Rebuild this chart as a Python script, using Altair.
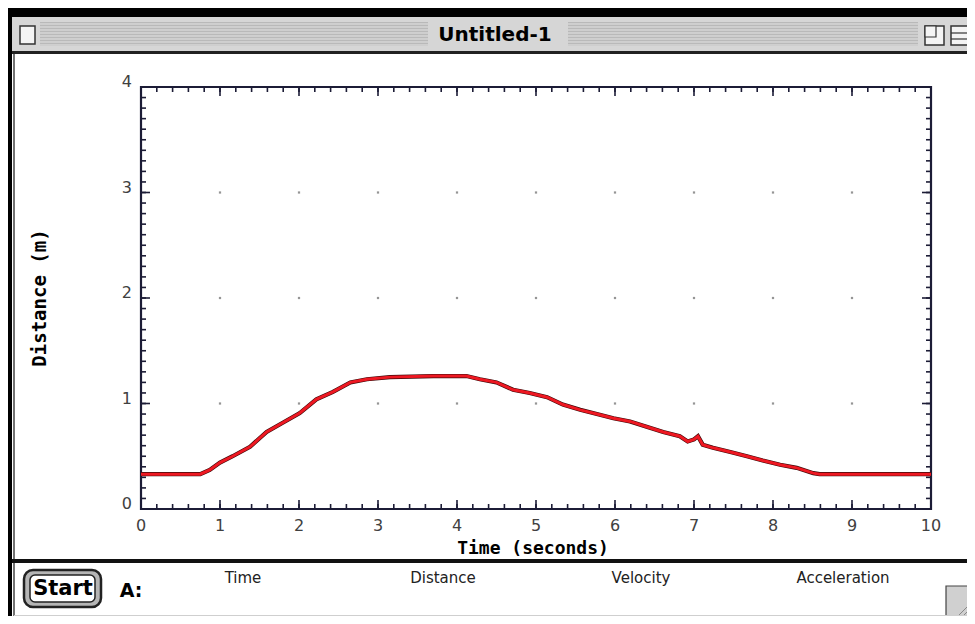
import altair as alt
import pandas as pd

# ---- data ----
time_s = [0.0, 0.40, 0.75, 0.87, 1.00, 1.16, 1.38, 1.59, 1.80, 2.01, 2.22, 2.43, 2.65,
          2.86, 3.15, 3.70, 4.12, 4.29, 4.50, 4.71, 4.92, 5.14, 5.34, 5.56, 5.77, 5.98,
          6.19, 6.40, 6.61, 6.82, 6.92, 7.00, 7.05, 7.11, 7.24, 7.46, 7.67, 7.87, 8.09,
          8.30, 8.51, 8.59, 9.30, 10.0]
distance_m = [0.33, 0.33, 0.33, 0.37, 0.44, 0.50, 0.59, 0.73, 0.82, 0.91, 1.04, 1.11, 1.20,
              1.23, 1.25, 1.26, 1.26, 1.23, 1.20, 1.13, 1.10, 1.06, 0.99, 0.94, 0.90, 0.86,
              0.83, 0.78, 0.73, 0.69, 0.64, 0.66, 0.69, 0.61, 0.58, 0.54, 0.50, 0.46, 0.42,
              0.39, 0.34, 0.33, 0.33, 0.33]
x_major = list(range(0, 11))
y_major = list(range(0, 5))
x_minor = [round(i * 0.2, 1) for i in range(0, 51)]
y_minor = [round(i * 0.1, 1) for i in range(0, 41)]
grid_x = list(range(1, 10))
grid_y = [1, 2, 3]
col_headers = ["Time", "Distance", "Velocity", "Acceleration"]
col_centers = [243, 443, 641, 843]

W, H = 790, 422
OX, OY = 141, 87
FRAME = "#1c1c36"
LABEL = "#404040"

xs = alt.Scale(domain=[0, 10], nice=False, zero=False)
ys = alt.Scale(domain=[0, 4], nice=False, zero=False)
one = pd.DataFrame({"k": [0]})


def px(x):
    return alt.value(x - OX)


def py(y):
    return alt.value(y - OY)


def rect(x1, x2, y1, y2, fill, stroke=None, sw=0, cr=0):
    kw = dict(fill=fill, cornerRadius=cr)
    if stroke:
        kw.update(stroke=stroke, strokeWidth=sw)
    else:
        kw.update(strokeWidth=0)
    return alt.Chart(one).mark_rect(**kw).encode(x=px(x1), x2=px(x2), y=py(y1), y2=py(y2))


def rule(x1, y1, x2, y2, color, sw):
    return alt.Chart(one).mark_rule(color=color, strokeWidth=sw).encode(
        x=px(x1), x2=px(x2), y=py(y1), y2=py(y2))


def text(s, x, y, size, weight="normal", font="DejaVu Sans", color="#000", angle=0):
    return alt.Chart(one).mark_text(fontSize=size, fontWeight=weight, font=font, color=color,
                                    align="center", baseline="middle", angle=angle).encode(
        x=px(x), y=py(y), text=alt.value(s))


layers = []
# window chrome
layers.append(rect(0, 975, 0, 17, "#000"))
layers.append(rect(0, 12, 0, 624, "#000"))
layers.append(rect(12, 975, 17, 51, "#d6d6d6"))
for (a, b) in [(40, 428), (568, 918)]:
    layers.append(rect(a, b, 22, 46, "#b9b9b9"))
    for yy in range(24, 46, 3):
        layers.append(rule(a, yy, b, yy, "#e4e4e4", 1))
layers.append(rect(20, 35, 26, 44, "#f4f4f4", "#333", 1.5))
layers.append(rect(925, 944, 26, 45, "#f4f4f4", "#333", 1.5))
layers.append(rect(925, 936, 26, 37, "#f4f4f4", "#333", 1.2))
layers.append(rect(951, 975, 26, 45, "#f4f4f4", "#333", 1.5))
layers.append(rule(951, 33, 975, 33, "#333", 1.2))
layers.append(rule(951, 39, 975, 39, "#333", 1.2))
layers.append(rect(12, 975, 51, 54, "#222"))
layers.append(rule(14, 54, 14, 624, "#444", 1.5))
layers.append(rect(12, 975, 559, 563, "#111"))
layers.append(rect(24, 101, 570, 607, "#b5b5b5", "#222", 2.5, 9))
layers.append(rect(30, 95, 575, 602, "#fff", "#222", 1.5, 5))
layers.append(rect(946, 975, 586, 624, "#d0d0d0", "#444", 1.2))
for k in range(4):
    layers.append(rule(958 + k * 5, 616, 973, 601 + k * 5, "#888", 1))
layers.append(rect(14, 975, 615, 624, "#cfcfcf"))

# grid dots
gdf = pd.DataFrame([(gx, gy) for gx in grid_x for gy in grid_y], columns=["t", "d"])
layers.append(alt.Chart(gdf).mark_square(size=5, color="#8a8a8a", opacity=0.9).encode(
    x=alt.X("t:Q", scale=xs, axis=None), y=alt.Y("d:Q", scale=ys, axis=None)))

# inward ticks on all four sides
xmaj = pd.DataFrame({"t": x_major})
xmin = pd.DataFrame({"t": x_minor})
ymaj = pd.DataFrame({"d": y_major})
ymin = pd.DataFrame({"d": y_minor})
for dfx, ln in [(xmaj, 9), (xmin, 5)]:
    layers.append(alt.Chart(dfx).mark_rule(color=FRAME, strokeWidth=1.6).encode(
        x=alt.X("t:Q", scale=xs, axis=None), y=alt.value(H), y2=alt.value(H - ln)))
    layers.append(alt.Chart(dfx).mark_rule(color=FRAME, strokeWidth=1.6).encode(
        x=alt.X("t:Q", scale=xs, axis=None), y=alt.value(0), y2=alt.value(ln)))
for dfy, ln in [(ymaj, 9), (ymin, 5)]:
    layers.append(alt.Chart(dfy).mark_rule(color=FRAME, strokeWidth=1.6).encode(
        y=alt.Y("d:Q", scale=ys, axis=None), x=alt.value(0), x2=alt.value(ln)))
    layers.append(alt.Chart(dfy).mark_rule(color=FRAME, strokeWidth=1.6).encode(
        y=alt.Y("d:Q", scale=ys, axis=None), x=alt.value(W), x2=alt.value(W - ln)))

# tick labels
layers.append(alt.Chart(xmaj).mark_text(font="DejaVu Sans", fontSize=16, color=LABEL,
                                        align="center", baseline="middle").encode(
    x=alt.X("t:Q", scale=xs, axis=None), y=alt.value(H + 17), text=alt.Text("t:Q", format="d")))
layers.append(alt.Chart(ymaj).mark_text(font="DejaVu Sans", fontSize=16, color=LABEL,
                                        align="right", baseline="alphabetic").encode(
    y=alt.Y("d:Q", scale=ys, axis=None), x=alt.value(-9), text=alt.Text("d:Q", format="d")))

# the data line
df = pd.DataFrame({"t": time_s, "d": distance_m})
base = alt.Chart(df).encode(
    x=alt.X("t:Q", scale=xs, axis=None),
    y=alt.Y("d:Q", scale=ys, axis=None),
)
layers.append(base.mark_line(color="#3a0808", strokeWidth=4.2))
layers.append(base.mark_line(color="#ee1822", strokeWidth=3.0))

# texts
layers.append(text("Untitled-1", 495, 35, 20, "bold"))
layers.append(text("Time (seconds)", 533, 549, 18, "bold", "DejaVu Sans Mono"))
layers.append(text("Distance (m)", 40, 298, 19, "bold", "DejaVu Sans Mono", angle=270))
layers.append(text("Start", 63, 589, 21, "bold"))
layers.append(text("A:", 131, 591, 19, "bold"))
for h, cx in zip(col_headers, col_centers):
    layers.append(text(h, cx, 578, 15, "normal", "DejaVu Sans", "#222"))

chart = alt.layer(*layers).properties(
    width=W, height=H,
    autosize=alt.AutoSizeParams(type="none"),
    padding={"left": 133, "top": 79, "right": 36, "bottom": 107},
).configure(background="#ffffff").configure_view(stroke=FRAME, strokeWidth=2.2)

chart.save("out.html", embed_options={"renderer": "svg", "actions": False})
